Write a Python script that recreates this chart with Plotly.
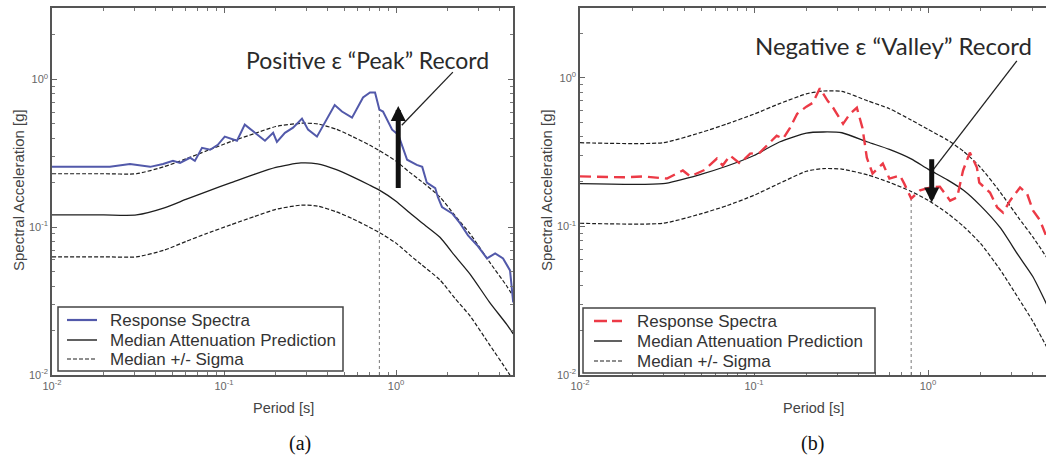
import math
import plotly.graph_objects as go

# ---------------- data ----------------
# Panel (a) attenuation model
T_a_model = [0.01, 0.02, 0.031, 0.045, 0.06, 0.08, 0.11, 0.15, 0.2, 0.28, 0.35, 0.45, 0.56, 0.7, 0.8, 1.0, 1.2, 1.4, 1.8, 2.2, 2.7, 3.5, 4.4, 4.8]
median_a = [0.121, 0.121, 0.121, 0.135, 0.154, 0.175, 0.200, 0.228, 0.254, 0.272, 0.268, 0.245, 0.219, 0.193, 0.178, 0.150, 0.125, 0.108, 0.0855, 0.064, 0.048, 0.031, 0.022, 0.019]
upper_a = [0.23, 0.23, 0.23, 0.257, 0.29, 0.33, 0.38, 0.43, 0.48, 0.505, 0.50, 0.46, 0.41, 0.36, 0.33, 0.28, 0.235, 0.205, 0.16, 0.12, 0.09, 0.058, 0.04, 0.034]
lower_a = [0.063, 0.063, 0.063, 0.07, 0.08, 0.091, 0.104, 0.118, 0.132, 0.141, 0.139, 0.127, 0.114, 0.1, 0.092, 0.078, 0.065, 0.056, 0.044, 0.033, 0.025, 0.016, 0.0108, 0.0092]

# Panel (a) response spectrum (positive epsilon record)
T_resp_a = [0.01, 0.0217, 0.0284, 0.0337, 0.0372, 0.0442, 0.0505, 0.0555, 0.0634, 0.0677,
            0.0745, 0.083, 0.092, 0.101, 0.113, 0.119, 0.132, 0.151, 0.173, 0.193,
            0.203, 0.226, 0.252, 0.284, 0.308, 0.347, 0.375, 0.44, 0.485, 0.555,
            0.643, 0.706, 0.755, 0.8, 0.84, 0.949, 1.03, 1.16, 1.32, 1.42,
            1.51, 1.69, 1.75, 1.85, 2.12, 2.36, 2.62, 2.96, 3.38, 3.77,
            4.19, 4.6, 4.8]
Sa_resp_a = [0.256, 0.256, 0.268, 0.26, 0.256, 0.268, 0.281, 0.272, 0.295, 0.281,
             0.344, 0.334, 0.361, 0.41, 0.39, 0.385, 0.494, 0.435, 0.385, 0.435,
             0.378, 0.435, 0.471, 0.543, 0.457, 0.41, 0.479, 0.67, 0.606, 0.551,
             0.755, 0.816, 0.816, 0.625, 0.606, 0.457, 0.423, 0.286, 0.264, 0.256,
             0.2, 0.184, 0.16, 0.137, 0.124, 0.106, 0.088, 0.0755, 0.0615, 0.0665,
             0.0615, 0.051, 0.031]

# Panel (b) attenuation model
T_b_model = [0.01, 0.03, 0.05, 0.07, 0.1, 0.14, 0.2, 0.25, 0.32, 0.45, 0.6, 0.8, 1.0, 1.3, 1.6, 2.0, 2.6, 3.3, 4.0, 4.8]
median_b = [0.194, 0.194, 0.225, 0.255, 0.30, 0.37, 0.425, 0.432, 0.427, 0.37, 0.33, 0.285, 0.243, 0.205, 0.175, 0.138, 0.098, 0.064, 0.046, 0.030]
upper_b = [0.366, 0.366, 0.43, 0.49, 0.57, 0.67, 0.78, 0.815, 0.81, 0.70, 0.62, 0.52, 0.45, 0.38, 0.32, 0.25, 0.17, 0.115, 0.085, 0.062]
lower_b = [0.105, 0.105, 0.122, 0.138, 0.162, 0.195, 0.235, 0.245, 0.243, 0.222, 0.198, 0.172, 0.15, 0.122, 0.1, 0.077, 0.051, 0.033, 0.023, 0.0155]

# Panel (b) response spectrum (negative epsilon record)
T_resp_b = [0.01, 0.0177, 0.023, 0.0316, 0.039, 0.043, 0.052, 0.0612, 0.066, 0.0728,
            0.083, 0.095, 0.108, 0.124, 0.135, 0.147, 0.161, 0.177, 0.2, 0.218,
            0.239, 0.265, 0.285, 0.325, 0.356, 0.39, 0.42, 0.445, 0.48, 0.55,
            0.6, 0.69, 0.73, 0.8, 0.9, 1.03, 1.17, 1.34, 1.47, 1.59,
            1.74, 1.91, 1.97, 2.27, 2.5, 2.7, 2.96, 3.38, 3.71, 4.01,
            4.4, 4.8]
Sa_resp_b = [0.217, 0.214, 0.217, 0.21, 0.238, 0.217, 0.24, 0.286, 0.257, 0.3,
             0.265, 0.309, 0.314, 0.366, 0.408, 0.39, 0.461, 0.573, 0.64, 0.68,
             0.85, 0.7, 0.629, 0.49, 0.573, 0.629, 0.46, 0.29, 0.227, 0.265,
             0.21, 0.22, 0.194, 0.154, 0.175, 0.183, 0.185, 0.149, 0.157, 0.238,
             0.314, 0.249, 0.197, 0.169, 0.134, 0.124, 0.149, 0.183, 0.166, 0.128,
             0.11, 0.085]

# reference period (vertical dotted line) and its top values
T_ref = 0.8
ref_top_a = 0.63
ref_top_b = 0.152

# thick arrows: period, tail Sa, head Sa
arrow_a = [1.03, 0.18, 0.66]
arrow_b = [1.05, 0.29, 0.145]
# thin pointer lines: [T_start, T_end], [Sa_start, Sa_end]
pointer_a_T = [2.14, 1.08]
pointer_a_Sa = [1.12, 0.49]
pointer_b_T = [3.24, 1.04]
pointer_b_Sa = [1.30, 0.23]

# legend labels
legend_labels = ["Response Spectra", "Median Attenuation Prediction", "Median +/- Sigma"]

# tick labels
major_ticks = [0.01, 0.1, 1]
major_text = ["10<sup>-2</sup>", "10<sup>-1</sup>", "10<sup>0</sup>"]
minor_ticks = [k * 10 ** e for e in (-2, -1, 0) for k in range(2, 10)]

# ---------------- figure ----------------
W, H = 1046, 461
fig = go.Figure()

BLUE = "#5259aa"
RED = "#ec3a46"
BLACK = "#1e1e1e"
SIG_DASH = "4px,2px"
RED_DASH = "11px,6px"

def add_panel(xa, ya, T_model, med, up, lo, T_resp, Sa_resp, resp_line, ref_top):
    fig.add_trace(go.Scatter(x=[T_ref, T_ref], y=[0.01, ref_top], mode="lines",
                             line=dict(color="#777", width=1, dash="dot"),
                             xaxis=xa, yaxis=ya, hoverinfo="skip"))
    for band in (up, lo):
        fig.add_trace(go.Scatter(x=T_model, y=band, mode="lines", name=legend_labels[2],
                                 line=dict(color=BLACK, width=1.2, dash=SIG_DASH, shape="spline", smoothing=0.6),
                                 xaxis=xa, yaxis=ya))
    fig.add_trace(go.Scatter(x=T_model, y=med, mode="lines", name=legend_labels[1],
                             line=dict(color=BLACK, width=1.3, shape="spline", smoothing=0.6),
                             xaxis=xa, yaxis=ya))
    fig.add_trace(go.Scatter(x=T_resp, y=Sa_resp, mode="lines", name=legend_labels[0],
                             line=resp_line, xaxis=xa, yaxis=ya))

add_panel("x", "y", T_a_model, median_a, upper_a, lower_a, T_resp_a, Sa_resp_a,
          dict(color=BLUE, width=2), ref_top_a)
add_panel("x2", "y2", T_b_model, median_b, upper_b, lower_b, T_resp_b, Sa_resp_b,
          dict(color=RED, width=2.4, dash=RED_DASH), ref_top_b)

fig.add_trace(go.Scatter(x=pointer_a_T, y=pointer_a_Sa, mode="lines", line=dict(color="#222", width=1.3),
                         xaxis="x", yaxis="y"))
fig.add_trace(go.Scatter(x=pointer_b_T, y=pointer_b_Sa, mode="lines", line=dict(color="#222", width=1.3),
                         xaxis="x2", yaxis="y2"))

def axis(domain, rng, mirror=True):
    return dict(type="log", domain=domain, range=rng, automargin=False,
                tickvals=major_ticks, ticktext=major_text,
                ticks="inside", ticklen=5, tickcolor="#666", tickwidth=1,
                showline=True, linecolor="#555", linewidth=1.5, mirror="allticks" if mirror else False,
                showgrid=False, zeroline=False,
                minor=dict(tickvals=minor_ticks, ticks="inside", ticklen=3, tickcolor="#777", showgrid=False),
                tickfont=dict(size=11, color="#666", family="Liberation Sans, Arial"))

ydom = [1 - 375 / H, 1 - 8 / H]
fig.update_layout(
    width=W, height=H,
    margin=dict(l=0, r=0, t=0, b=0),
    paper_bgcolor="white", plot_bgcolor="white",
    showlegend=False,
    xaxis=dict(axis([52 / W, 513 / W], [-2, 0.68]), anchor="y"),
    yaxis=dict(axis(ydom, [-2, 0.483]), anchor="x"),
    xaxis2=dict(axis([580 / W, 1.0], [-2, 0.678]), anchor="y2"),
    yaxis2=dict(axis(ydom, [-2, 0.47], mirror=False), anchor="x2"),
)

def px(x):
    return x / W

def py(y):
    return 1 - y / H

ann = []
shapes = []

# manual legends (box, line samples, labels)
legend_specs = [
    # box x0, x1, y0, y1, sample x0, x1, text x, row y's, first-line style
    (58, 343, 307, 371, 67, 97, 108, [320, 340, 359], dict(color=BLUE, width=2.2)),
    (583, 875, 308, 373, 594, 622, 635, [321, 341, 361], dict(color=RED, width=2.4, dash="13px,5px")),
]
for bx0, bx1, by0, by1, sx0, sx1, tx, rows, first in legend_specs:
    shapes.append(dict(type="rect", xref="paper", yref="paper", x0=px(bx0), x1=px(bx1), y0=py(by1), y1=py(by0),
                       line=dict(color="#444", width=1.5), fillcolor="white", layer="above"))
    styles = [first, dict(color=BLACK, width=1.4), dict(color=BLACK, width=1.2, dash=SIG_DASH)]
    for lab, ry, st in zip(legend_labels, rows, styles):
        shapes.append(dict(type="line", xref="paper", yref="paper", x0=px(sx0), x1=px(sx1), y0=py(ry), y1=py(ry),
                           line=st, layer="above"))
        ann.append(dict(text=lab, xref="paper", yref="paper", x=px(tx), y=py(ry), showarrow=False,
                        xanchor="left", yanchor="middle",
                        font=dict(size=17, color="#333", family="Liberation Sans, Arial")))

# big labels
ann.append(dict(text="Positive \u03b5 \u201cPeak\u201d Record", xref="paper", yref="paper",
                x=px(367), y=py(60), showarrow=False, xanchor="center", yanchor="middle",
                font=dict(size=23, color="#2a2a2a", family="Lato, Open Sans")))
ann.append(dict(text="Negative \u03b5 \u201cValley\u201d Record", xref="paper", yref="paper",
                x=px(893), y=py(45), showarrow=False, xanchor="center", yanchor="middle",
                font=dict(size=24, color="#2a2a2a", family="Lato, Open Sans")))
# thick arrows
for (T, s0, s1), xr, yr in ((arrow_a, "x", "y"), (arrow_b, "x2", "y2")):
    ann.append(dict(text="", x=math.log10(T), y=math.log10(s1), ax=math.log10(T), ay=math.log10(s0),
                    xref=xr, yref=yr, axref=xr, ayref=yr, showarrow=True,
                    arrowhead=2, arrowsize=0.6, arrowwidth=5, arrowcolor="#111"))
# axis titles
for xc in (283, 813):
    ann.append(dict(text="Period [s]", xref="paper", yref="paper", x=px(xc), y=py(408),
                    showarrow=False, xanchor="center", yanchor="middle",
                    font=dict(size=14.5, color="#444", family="Liberation Sans, Arial")))
for xc in (18, 546):
    ann.append(dict(text="Spectral Acceleration [g]", xref="paper", yref="paper", x=px(xc), y=py(190),
                    showarrow=False, xanchor="center", yanchor="middle", textangle=-90,
                    font=dict(size=15, color="#444", family="Liberation Sans, Arial")))
# panel captions
for txt, xc in (("(a)", 300), ("(b)", 812)):
    ann.append(dict(text=txt, xref="paper", yref="paper", x=px(xc), y=py(443),
                    showarrow=False, xanchor="center", yanchor="middle",
                    font=dict(size=20, color="#111", family="Liberation Serif, Times New Roman")))
fig.update_layout(annotations=ann, shapes=shapes)

fig.write_html("out.html")
